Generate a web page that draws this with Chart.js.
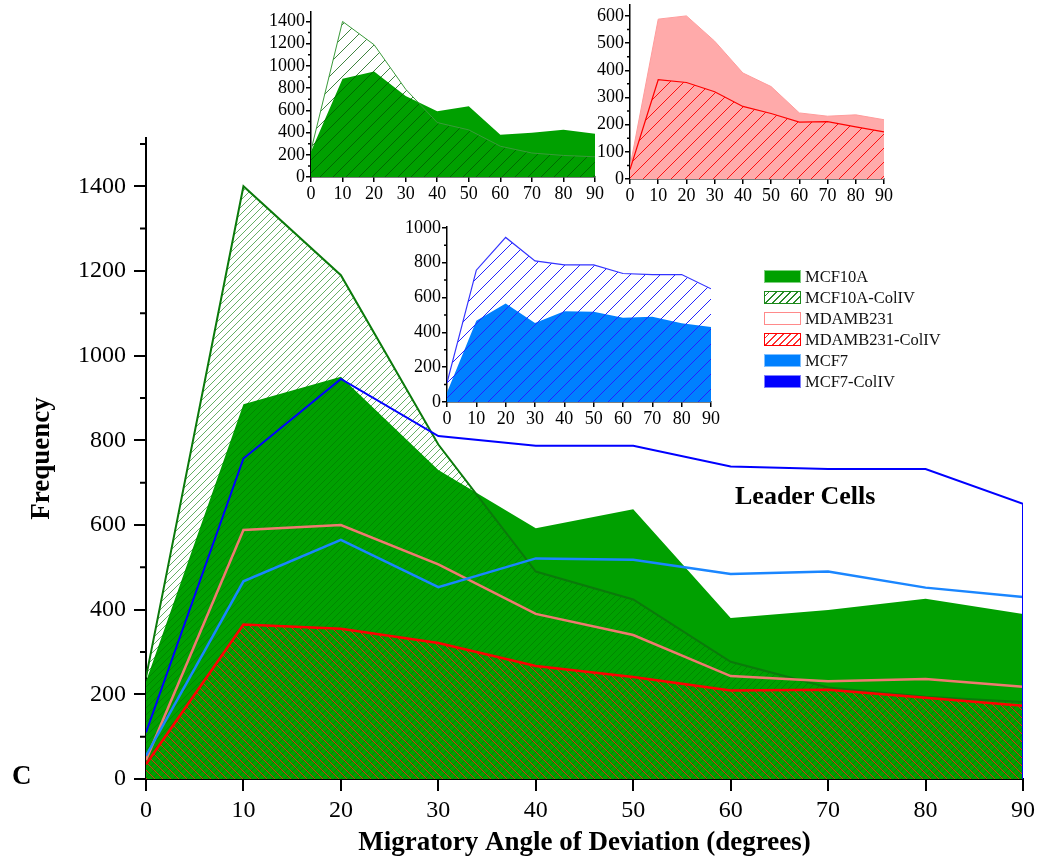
<!DOCTYPE html>
<html>
<head>
<meta charset="utf-8">
<script src="https://cdn.jsdelivr.net/npm/chart.js@4.4.0/dist/chart.umd.min.js"></script>
<style>
body{margin:0;background:#fff;width:1048px;height:862px;overflow:hidden;position:relative;font-family:"Liberation Serif","Times New Roman",serif}
canvas{position:absolute}
.lbl{position:absolute;font-weight:bold;color:#000;white-space:nowrap;line-height:1}
#legend{position:absolute;left:764px;top:266px}
.row{height:21px;display:flex;align-items:center;font-size:16.5px;color:#111}
.box{width:37px;height:13px;margin-right:4px;box-sizing:border-box}
</style>
</head>
<body>
<canvas id="main" width="1048" height="862" style="left:0;top:0"></canvas>
<canvas id="in1" width="360" height="210" style="left:250px;top:0"></canvas>
<canvas id="in2" width="330" height="210" style="left:570px;top:0"></canvas>
<canvas id="in3" width="340" height="215" style="left:390px;top:215px"></canvas>
<div id="legend"></div>
<div class="lbl" style="left:735px;top:483px;font-size:26px">Leader Cells</div>
<div class="lbl" style="left:12px;top:762px;font-size:27px">C</div>
<script>
// angle bins (degrees)
const angles = [0, 10, 20, 30, 40, 50, 60, 70, 80, 90];
// frequencies
const mcf10a    = [230, 885, 950, 730, 592, 637, 380, 399, 426, 390];
const mcf10aCol = [240, 1400, 1190, 790, 490, 424, 277, 216, 194, 182];
const mdamb     = [45, 588, 600, 507, 390, 340, 243, 231, 236, 218];
const mdambCol  = [35, 365, 355, 321, 267, 241, 209, 211, 192, 173];
const mcf7      = [55, 467, 565, 453, 521, 518, 484, 490, 452, 430];
const mcf7Col   = [110, 757, 945, 810, 787, 787, 738, 732, 732, 650];
const seriesNames = ['MCF10A', 'MCF10A-ColIV', 'MDAMB231', 'MDAMB231-ColIV', 'MCF7', 'MCF7-ColIV'];
// tick labels
const mainYTicks = [0, 200, 400, 600, 800, 1000, 1200, 1400];
const in1YTicks = [0, 200, 400, 600, 800, 1000, 1200, 1400];
const in2YTicks = [0, 100, 200, 300, 400, 500, 600];
const in3YTicks = [0, 200, 400, 600, 800, 1000];

const F = '"Liberation Serif", "Times New Roman", serif';

function pts(vals) {
    return angles.map((a, i) => ({x: a, y: vals[i]}));
}

function hatch(color, size, dir, lw) {
    const c = document.createElement('canvas');
    c.width = size; c.height = size;
    const g = c.getContext('2d');
    g.strokeStyle = color;
    g.lineWidth = lw;
    g.beginPath();
    if (dir === '/') {
        g.moveTo(0, size); g.lineTo(size, 0);
        g.moveTo(-1, 1); g.lineTo(1, -1);
        g.moveTo(size - 1, size + 1); g.lineTo(size + 1, size - 1);
    } else {
        g.moveTo(0, 0); g.lineTo(size, size);
        g.moveTo(size - 1, -1); g.lineTo(size + 1, 1);
        g.moveTo(-1, size - 1); g.lineTo(1, size + 1);
    }
    g.stroke();
    return g.createPattern(c, 'repeat');
}

// short ticks halfway between the labelled y ticks
const minorTicks = {
    id: 'minorTicks',
    afterDraw(chart, args, opts) {
        const y = chart.scales.y;
        const t = y.ticks.map(k => k.value);
        const step = t[1] - t[0];
        const ctx = chart.ctx;
        ctx.save();
        ctx.strokeStyle = '#000';
        ctx.lineWidth = opts.width;
        ctx.beginPath();
        for (let v = t[0] + step / 2; v <= y.max; v += step) {
            const py = y.getPixelForValue(v);
            ctx.moveTo(y.right - opts.len, py);
            ctx.lineTo(y.right, py);
        }
        ctx.stroke();
        ctx.restore();
    }
};

function build(id, o) {
    const tickFont = {family: F, size: o.fs};
    return new Chart(document.getElementById(id), {
        type: 'line',
        data: {datasets: o.datasets},
        options: {
            responsive: false,
            animation: false,
            devicePixelRatio: 1,
            layout: {padding: {top: o.top, right: o.right, left: 0, bottom: 0}},
            plugins: {
                legend: {display: false},
                tooltip: {enabled: false},
                minorTicks: {len: o.minor, width: o.lw}
            },
            elements: {point: {radius: 0}, line: {tension: 0}},
            scales: {
                x: {
                    type: 'linear', min: 0, max: 90,
                    afterBuildTicks(s) { s.ticks = angles.map(v => ({value: v})); },
                    ticks: {font: tickFont, color: '#000', padding: o.xpad, maxRotation: 0, autoSkip: false,
                            callback: v => String(v)},
                    grid: {drawOnChartArea: false, tickLength: o.tick, color: '#000', lineWidth: o.lw},
                    border: {color: '#000', width: o.lw},
                    title: o.xTitle || {display: false},
                    afterFit(s) { s.height = o.h - o.bottom; s.paddingLeft = 0; s.paddingRight = 0; }
                },
                y: {
                    min: 0, max: o.ymax,
                    afterBuildTicks(s) { s.ticks = o.yticks.map(v => ({value: v})); },
                    ticks: {font: tickFont, color: '#000', padding: o.ypad, autoSkip: false,
                            callback: v => String(v)},
                    grid: {drawOnChartArea: false, tickLength: o.tick, color: '#000', lineWidth: o.lw},
                    border: {color: '#000', width: o.lw},
                    title: o.yTitle || {display: false},
                    afterFit(s) { s.width = o.left; s.paddingTop = 0; s.paddingBottom = 0; }
                }
            }
        },
        plugins: [minorTicks]
    });
}

// main chart, first dataset is drawn on top
const mcf7ColMain = pts(mcf7Col).concat([{x: 90, y: 0}]);
build('main', {
    h: 862, left: 146, top: 138, right: 25, bottom: 779,
    ymax: 1514, yticks: mainYTicks, fs: 24, tick: 12, minor: 6, lw: 2, xpad: 5, ypad: 8,
    xTitle: {display: true, text: 'Migratory Angle of Deviation (degrees)', color: '#000',
             font: {family: F, size: 27, weight: 'bold'}, padding: {top: 0, bottom: 3}},
    yTitle: {display: true, text: 'Frequency', color: '#000',
             font: {family: F, size: 27, weight: 'bold'}, padding: {top: 26, bottom: 0}},
    datasets: [
        {label: seriesNames[5], data: mcf7ColMain, borderColor: '#0000ff', borderWidth: 2, fill: false},
        {label: seriesNames[4], data: pts(mcf7), borderColor: '#1a86ff', borderWidth: 2.5, fill: false},
        {label: seriesNames[2], data: pts(mdamb), borderColor: '#f07a70', borderWidth: 2.5, fill: false},
        {label: seriesNames[3], data: pts(mdambCol), borderColor: '#ff0000', borderWidth: 2.5,
         fill: 'origin', backgroundColor: hatch('rgba(255,20,20,0.9)', 8, '\\', 1)},
        {label: seriesNames[1], data: pts(mcf10aCol), borderColor: '#0a7a0a', borderWidth: 2,
         fill: 'origin', backgroundColor: hatch('rgba(0,120,0,0.6)', 7, '/', 1)},
        {label: seriesNames[0], data: pts(mcf10a), borderColor: '#00a000', borderWidth: 0,
         fill: 'origin', backgroundColor: '#00a000'}
    ]
});

// inset: MCF10A
build('in1', {
    h: 210, left: 61, top: 12, right: 15, bottom: 177,
    ymax: 1485, yticks: in1YTicks, fs: 18, tick: 5, minor: 3, lw: 1.5, xpad: 1, ypad: 1,
    datasets: [
        {data: pts(mcf10aCol), borderColor: '#3a9a3a', borderWidth: 1,
         fill: 'origin', backgroundColor: hatch('rgba(0,90,0,0.75)', 13, '/', 1)},
        {data: pts(mcf10a), borderColor: '#00a000', borderWidth: 0, fill: 'origin', backgroundColor: '#00a000'}
    ]
});

// inset: MDAMB231
build('in2', {
    h: 210, left: 60, top: 5, right: 16, bottom: 179,
    ymax: 640, yticks: in2YTicks, fs: 18, tick: 5, minor: 3, lw: 1.5, xpad: 1, ypad: 1,
    datasets: [
        {data: pts(mdambCol), borderColor: '#ff0000', borderWidth: 1.2,
         fill: 'origin', backgroundColor: hatch('#ff1010', 14, '/', 1)},
        {data: pts(mdamb), borderColor: '#ff9c9c', borderWidth: 1, fill: 'origin', backgroundColor: '#ffaaaa'}
    ]
});

// inset: MCF7
build('in3', {
    h: 215, left: 57, top: 12, right: 19, bottom: 187,
    ymax: 1005, yticks: in3YTicks, fs: 18, tick: 5, minor: 3, lw: 1.5, xpad: 1, ypad: 1,
    datasets: [
        {data: pts(mcf7Col), borderColor: '#3333ff', borderWidth: 1.2,
         fill: 'origin', backgroundColor: hatch('#2222ff', 15, '/', 1)},
        {data: pts(mcf7), borderColor: '#0080ff', borderWidth: 0, fill: 'origin', backgroundColor: '#0080ff'}
    ]
});

// legend
const boxStyles = [
    'background:#00a000;border:1px solid #7fd07f',
    'border:1.5px solid #1a8a1a;background:repeating-linear-gradient(-45deg,#fff 0 4px,#2a8a2a 4px 5px)',
    'background:#fff;border:1.5px solid #ff8a8a',
    'border:1.5px solid #ff0000;background:repeating-linear-gradient(-45deg,#fff 0 4px,#ff3030 4px 5px)',
    'background:#0080ff;border:1px solid #80c0ff',
    'background:#0000ff;border:1px solid #8080ff'
];
const leg = document.getElementById('legend');
seriesNames.forEach((n, i) => {
    const r = document.createElement('div');
    r.className = 'row';
    r.innerHTML = '<div class="box" style="' + boxStyles[i] + '"></div><span>' + n + '</span>';
    leg.appendChild(r);
});
</script>
</body>
</html>
